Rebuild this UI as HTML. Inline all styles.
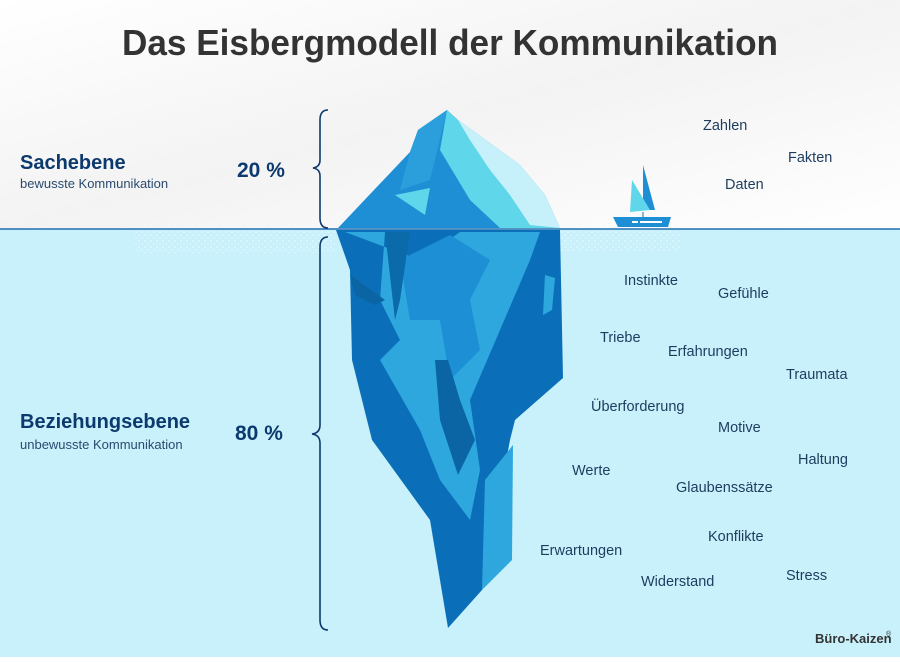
<!DOCTYPE html>
<html><head><meta charset="utf-8"><style>
body{margin:0;width:900px;height:657px;overflow:hidden;font-family:"Liberation Sans",sans-serif;}
</style></head><body>
<svg width="900" height="657" viewBox="0 0 900 657" xmlns="http://www.w3.org/2000/svg" font-family="Liberation Sans, sans-serif">
<defs>
<linearGradient id="sky" x1="0" y1="0" x2="1" y2="1"><stop offset="0" stop-color="#ffffff"/><stop offset="0.5" stop-color="#f3f3f3"/><stop offset="1" stop-color="#ffffff"/></linearGradient>
<pattern id="dots" width="6" height="6" patternUnits="userSpaceOnUse"><circle cx="1" cy="1" r="0.8" fill="#fff"/><circle cx="4" cy="4" r="0.7" fill="#fff"/></pattern>
</defs>
<rect width="900" height="229" fill="url(#sky)"/>
<rect y="229" width="900" height="428" fill="#c9f1fb"/>
<rect x="135" y="231" width="200" height="22" fill="url(#dots)" opacity="0.7"/>
<rect x="560" y="231" width="120" height="20" fill="url(#dots)" opacity="0.7"/>
<line x1="0" y1="229" x2="900" y2="229" stroke="#1f6fb0" stroke-width="1.5"/>
<text x="450" y="55" text-anchor="middle" font-size="36" font-weight="bold" fill="#333" textLength="656" lengthAdjust="spacingAndGlyphs">Das Eisbergmodell der Kommunikation</text>
<!-- iceberg top -->
<polygon points="338,228 410,152 418,130 447,110 458,120 520,165 545,195 560,228" fill="#1e8fd4"/>
<polygon points="447,110 458,120 520,165 545,195 560,228 500,228 470,200 440,150" fill="#5fd6ea"/>
<polygon points="458,120 520,165 545,195 560,228 530,225 510,195 490,170 470,140" fill="#c7f1fa"/>
<polygon points="410,152 418,130 447,110 430,180 400,190" fill="#2a9fdc"/>
<polygon points="395,195 430,188 425,215" fill="#5fd6ea"/>
<!-- iceberg under -->
<polygon points="336,230 560,230 563,378 515,420 510,440 482,590 448,628 430,520 372,440 352,360 350,270" fill="#0a6fb8"/>
<polygon points="345,232 385,232 380,300 400,340 380,360 420,430 440,480 470,520 480,470 470,400 500,330 530,260 540,232 460,232 420,260" fill="#2ea7df"/>
<polygon points="400,260 450,235 490,260 470,300 480,350 450,380 440,320 410,320" fill="#1d8fd4"/>
<polygon points="385,232 410,232 400,300 395,320" fill="#0b6aaa"/>
<polygon points="435,360 448,360 460,400 475,440 458,475 440,420" fill="#0b64a3"/>
<polygon points="350,275 385,300 375,305 355,295" fill="#0b64a3"/>
<polygon points="513,445 512,560 482,590 485,480" fill="#2ea7df"/>
<polygon points="545,275 555,278 552,310 543,315" fill="#2ea7df"/>
<!-- boat -->
<polygon points="643,165 655,210 643,210" fill="#1e8fd4"/>
<polygon points="632,180 650,210 630,212" fill="#5fd6ea"/>
<line x1="643" y1="212" x2="643" y2="217" stroke="#1e6fb0"/>
<polygon points="613,217 671,217 668,227 618,227" fill="#1e8fd4"/>
<rect x="632" y="221" width="6" height="2" fill="#fff"/><rect x="640" y="221" width="22" height="2" fill="#fff"/>
<!-- braces -->
<path d="M328,110 Q320,110 320,120 L320,160 Q320,167 313,168 Q320,169 320,176 L320,218 Q320,228 328,228" fill="none" stroke="#0d3a6e" stroke-width="1.6"/>
<path d="M328,237 Q320,237 320,247 L320,425 Q320,433 312,434 Q320,435 320,443 L320,620 Q320,630 328,630" fill="none" stroke="#0d3a6e" stroke-width="1.6"/>
<text x="20" y="169" font-size="20" font-weight="bold" fill="#0d3a6e">Sachebene</text>
<text x="20" y="188" font-size="13" fill="#2a4a6e">bewusste Kommunikation</text>
<text x="237" y="177" font-size="21" font-weight="bold" fill="#0d3a6e">20 %</text>
<text x="20" y="428" font-size="20" font-weight="bold" fill="#0d3a6e">Beziehungsebene</text>
<text x="20" y="449" font-size="13" fill="#2a4a6e">unbewusste Kommunikation</text>
<text x="235" y="440" font-size="21" font-weight="bold" fill="#0d3a6e">80 %</text>
<g font-size="14.5" fill="#1d3c5e">
<text x="703" y="130">Zahlen</text>
<text x="788" y="162">Fakten</text>
<text x="725" y="189">Daten</text>
<text x="624" y="285">Instinkte</text>
<text x="718" y="298">Gefühle</text>
<text x="600" y="342">Triebe</text>
<text x="668" y="356">Erfahrungen</text>
<text x="786" y="379">Traumata</text>
<text x="591" y="411">Überforderung</text>
<text x="718" y="432">Motive</text>
<text x="798" y="464">Haltung</text>
<text x="572" y="475">Werte</text>
<text x="676" y="492">Glaubenssätze</text>
<text x="708" y="541">Konflikte</text>
<text x="540" y="555">Erwartungen</text>
<text x="786" y="580">Stress</text>
<text x="641" y="586">Widerstand</text>
</g>
<text x="815" y="643" font-size="13" font-weight="bold" fill="#333">Büro-Kaizen</text><text x="886" y="636" font-size="7" fill="#333">®</text>
</svg>
</body></html>
